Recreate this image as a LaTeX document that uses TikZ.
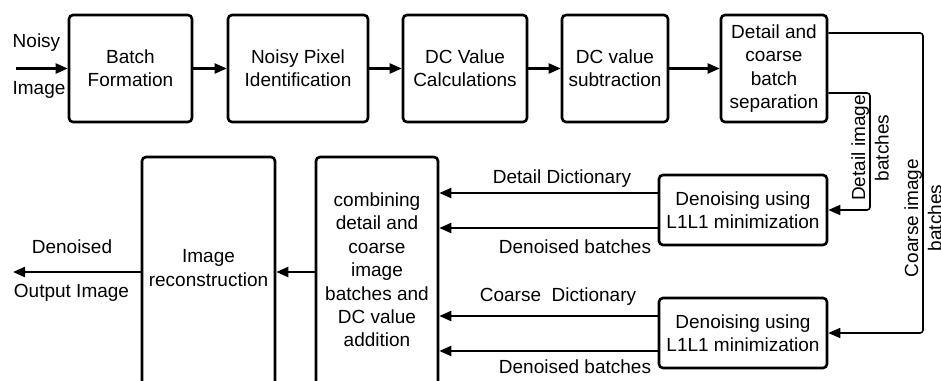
\documentclass[tikz,border=0pt]{standalone}
\usepackage{fontspec}
\setmainfont{Liberation Sans}
\usetikzlibrary{arrows.meta}

\begin{document}
\begin{tikzpicture}[x=1pt,y=-1pt,
  font=\fontsize{19}{23.4}\selectfont,
  blockbox/.style={draw,line width=2.6pt,rounded corners=4pt,align=center,inner sep=0pt},
  arr/.style={line width=2.2pt,-{Triangle[length=12pt,width=10pt]}},
  thinarr/.style={line width=1.6pt,rounded corners=3pt,-{Triangle[length=12pt,width=10pt]}},
  lbl/.style={inner sep=0pt,align=center}]
\useasboundingbox (0,0) rectangle (941,380);

% top row of processing stages
\node[blockbox,minimum width=123pt,minimum height=107pt] (bf)  at (130.5,68.5) {Batch\\Formation};
\node[blockbox,minimum width=140pt,minimum height=107pt] (npi) at (298,68.5) {Noisy Pixel\\Identification};
\node[blockbox,minimum width=124pt,minimum height=107pt] (dcc) at (465,68.5) {DC Value\\Calculations};
\node[blockbox,minimum width=106pt,minimum height=107pt] (dcs) at (615,68.5) {DC value\\subtraction};
\node[blockbox,minimum width=106pt,minimum height=107pt] (sep) at (774,68.5) {Detail and\\coarse\\batch\\separation};

% input
\coordinate (in) at (16,68.5);
\node[lbl] (noisy) at (36.5,43) {Noisy};
\node[lbl] (img) at (39,90) {Image};
\draw[arr] (in) -- (bf);
\draw[arr] (bf) -- (npi);
\draw[arr] (npi) -- (dcc);
\draw[arr] (dcc) -- (dcs);
\draw[arr] (dcs) -- (sep);

% denoising stages
\node[blockbox,minimum width=168pt,minimum height=70pt] (dn1) at (743,210) {Denoising using\\L1L1 minimization};
\node[blockbox,minimum width=168pt,minimum height=70pt] (dn2) at (743,333) {Denoising using\\L1L1 minimization};

% routes from the separation stage
\coordinate (dtop) at (870,93);
\coordinate (ctop) at (923,33);
\draw[thinarr] ([yshift=-24.5pt]sep.east) -- (dtop) |- (dn1.east);
\draw[thinarr] ([yshift=35.5pt]sep.east) -- (ctop) |- (dn2.east);
\node[lbl,rotate=90] (dlab) at (870,148) {Detail image\\batches};
\node[lbl,rotate=90] (clab) at (923,218) {Coarse image\\batches};

% combining and reconstruction stages (running past the lower edge)
\node[blockbox,minimum width=122pt,minimum height=266pt] (comb) at (377,290) {};
\node[lbl] (combtxt) at (377,270) {combining\\detail and\\coarse\\image\\batches and\\DC value\\addition};
\node[blockbox,minimum width=133pt,minimum height=266pt] (recon) at (208.5,290) {};
\node[lbl] (recontxt) at (208.5,268) {Image\\reconstruction};

% dictionaries and denoised batches
\draw[arr] ([yshift=17pt]dn1.west) -- ([yshift=17pt]dn1.west -| comb.east);
\draw[arr] ([yshift=-18pt]dn1.west) -- ([yshift=-18pt]dn1.west -| comb.east);
\draw[arr] ([yshift=17pt]dn2.west) -- ([yshift=17pt]dn2.west -| comb.east);
\draw[arr] ([yshift=-18pt]dn2.west) -- ([yshift=-18pt]dn2.west -| comb.east);
\node[lbl] (l1) at (562,179) {Detail Dictionary};
\node[lbl] (l2) at (575,247) {Denoised batches};
\node[lbl] (l3) at (558,297) {Coarse\ \ Dictionary};
\node[lbl] (l4) at (575,367) {Denoised batches};

% output
\coordinate (mid) at (0,272);
\coordinate (out) at (13,272);
\draw[arr] (comb.west |- mid) -- (recon.east |- mid);
\draw[arr] (recon.west |- mid) -- (out);
\node[lbl] (dout) at (72,247) {Denoised};
\node[lbl] (oimg) at (71.5,293) {Output Image};
\end{tikzpicture}
\end{document}
